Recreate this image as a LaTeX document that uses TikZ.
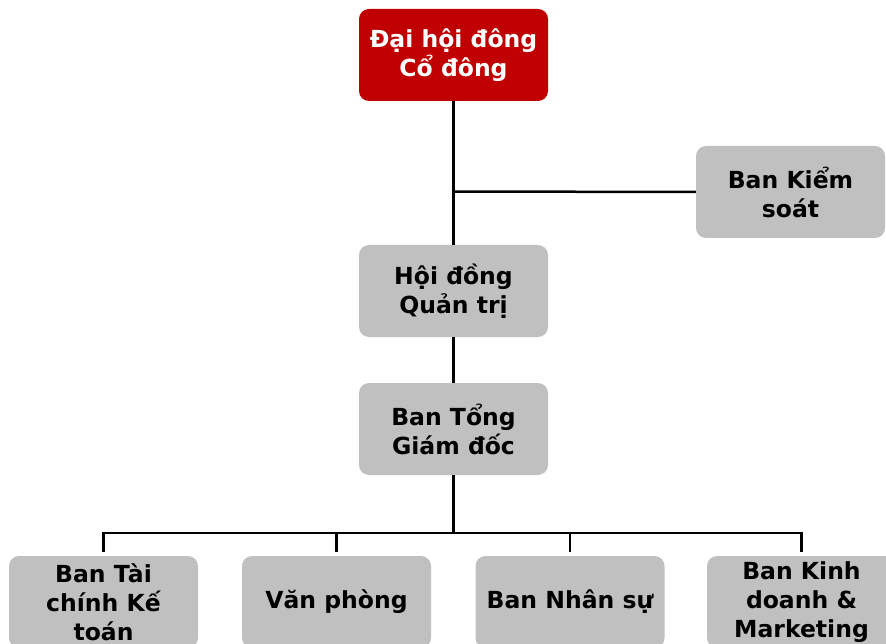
\documentclass[tikz,border=0pt]{standalone}
\usepackage{fontspec}
\setmainfont{DejaVu Sans}
\definecolor{topred}{HTML}{C00000}
\definecolor{boxgray}{HTML}{C0C0C0}
\begin{document}
\begin{tikzpicture}[x=1pt,y=-1pt,
  orgbox/.style={rectangle, rounded corners=10pt, minimum width=189pt, minimum height=92pt,
    inner sep=2pt, align=center, fill=boxgray, draw=none,
    font=\bfseries\fontsize{23.5}{29}\selectfont, text=black},
  redbox/.style={orgbox, fill=topred, text=white},
  link/.style={draw=black, line width=2.5pt}]
\useasboundingbox (0,0) rectangle (886,644);
\clip (0,0) rectangle (886,644);
\node[redbox] (dh) at (453.5,55) {Đại hội đông\\Cổ đông};
\node[orgbox] (ks) at (790.5,192) {Ban Kiểm\\soát};
\node[orgbox] (hd) at (453.5,291) {Hội đồng\\Quản trị};
\node[orgbox] (tg) at (453.5,429) {Ban Tổng\\Giám đốc};
\node[orgbox] (tc) at (103.5,602) {Ban Tài\\chính Kế\\toán};
\node[orgbox] (vp) at (336.5,602) {Văn phòng};
\node[orgbox] (ns) at (570,602) {Ban Nhân sự};
\node[orgbox] (kd) at (801.5,602) {Ban Kinh\\doanh \&\\Marketing};
\coordinate (br) at (453.5,191.5);
\coordinate (bus) at (453.5,533);
\draw[link] (dh.south) -- (hd.north);
\draw[link] (br) -- (ks.west);
\draw[link] (hd.south) -- (tg.north);
\draw[link] (tg.south) -- (bus);
\draw[link] ([yshift=4pt]tc.north) -- (tc.north |- bus) -| ([yshift=4pt]kd.north);
\draw[link] ([yshift=4pt]vp.north) -- (vp.north |- bus);
\draw[link] ([yshift=4pt]ns.north) -- (ns.north |- bus);
\end{tikzpicture}
\end{document}
